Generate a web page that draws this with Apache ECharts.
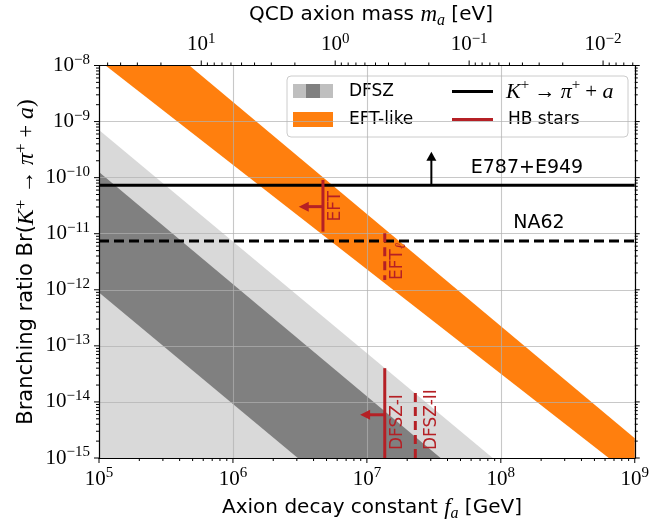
<!DOCTYPE html>
<html><head><meta charset="utf-8">
<script src="https://cdn.jsdelivr.net/npm/echarts@6/dist/echarts.min.js"></script>
<style>html,body{margin:0;padding:0;background:#fff}#c{width:652px;height:523px}</style>
</head><body><div id="c"></div>
<script>
// ---------------- data ----------------
const faRange = [1e5, 1e9];          // axion decay constant f_a [GeV]
const brRange = [1e-15, 1e-8];       // branching ratio
const xTickExps = [5, 6, 7, 8, 9];
const yTickExps = [-15, -14, -13, -12, -11, -10, -9, -8];
const maTickExps = [1, 0, -1, -2];   // top axis: QCD axion mass [eV]
const maConst = 5.8e6;               // m_a [eV] = maConst / f_a[GeV]

// bands: polygons of [f_a, Br]
const dfszOuter = [[1e5, 7.1e-10], [8.7e7, 1e-15], [1e5, 1e-15]];
const dfszInner = [[1e5, 1.26e-10], [3.55e7, 1e-15], [3.05e6, 1e-15], [1e5, 8.9e-13]];
const eftBand   = [[1.12e5, 1e-8], [4.73e5, 1e-8], [1e9, 2.24e-15], [1e9, 1e-15], [6.4e8, 1e-15]];

// K+ -> pi+ a limits
const kNames = ['E787+E949', 'NA62'];
const kBr = [7.33e-11, 7.45e-12];
const kDashed = [false, true];
const kLabelFa = [5.96e7, 1.24e8];
const kArrowFa = [3.03e7, null];
const kArrowTipBr = [2.9e-10, null];

// HB stars bounds
const hbNames = ['EFT', 'EFT_ℓ', 'DFSZ-I', 'DFSZ-II'];
const hbFa = [4.7e6, 1.36e7, 1.36e7, 2.3e7];
const hbBrTop = [9.1e-11, 1.02e-11, 4.0e-14, 1.44e-14];
const hbBrBottom = [1.09e-11, 1.5e-12, 1e-15, 1e-15];
const hbDashed = [false, true, false, true];
const hbArrowBr = [3.04e-11, null, 5.9e-15, null];
const hbArrowTipFa = [3.1e6, null, 8.9e6, null];

// ---------------- styles ----------------
const SERIF = "'Liberation Serif', 'DejaVu Serif', serif";
const SANS = "'DejaVu Sans', sans-serif";
const RED = '#b52025';
const ORANGE = '#ff7f0e';
const LIGHT = '#d9d9d9';
const DARK = '#808080';
const hbLabelLayout = [{dx: 13, dy: 10}, {dx: 13, dy: 0}, {dx: 13, dy: 8}, {dx: 16, dy: 8}];

const expRich = {
  b: {fontFamily: SERIF, fontSize: 21, lineHeight: 26, color: '#000', fill: '#000'},
  s: {fontFamily: SERIF, fontSize: 15, lineHeight: 15, verticalAlign: 'top', color: '#000', fill: '#000'}
};
function powText(e) { return '{b|10}{s|' + (e < 0 ? '\u2212' + (-e) : String(e)) + '}'; }
function powLabel(v) { return powText(Math.round(Math.log10(v))); }

function mathRich(base) {
  return {
    t: {fontFamily: SANS, fontSize: base, lineHeight: 28, fill: '#000'},
    m: {fontFamily: SERIF, fontStyle: 'italic', fontSize: base + 3, lineHeight: 28, fill: '#000'},
    r: {fontFamily: SERIF, fontSize: base + 2, lineHeight: 28, fill: '#000'},
    sub: {fontFamily: SERIF, fontStyle: 'italic', fontSize: base - 4, lineHeight: 17, verticalAlign: 'bottom', fill: '#000'},
    sup: {fontFamily: SERIF, fontSize: base - 4, lineHeight: 17, verticalAlign: 'top', fill: '#000'}
  };
}
const titleRich = mathRich(20);
const yTitleRich = mathRich(21);
const legendRich = mathRich(19);

function polySeries(name, pts, color) {
  return {
    type: 'custom', name, coordinateSystem: 'cartesian2d', z: 2, silent: true,
    data: [pts[0]],
    renderItem: (params, api) => ({
      type: 'polygon',
      shape: {points: pts.map(p => api.coord(p))},
      style: {fill: color}
    })
  };
}

function kRender(params, api) {
  const i = params.dataIndex;
  const pL = api.coord([faRange[0], kBr[i]]), pR = api.coord([faRange[1], kBr[i]]);
  const ch = [{type: 'line', shape: {x1: pL[0], y1: pL[1], x2: pR[0], y2: pR[1]},
    style: {stroke: '#000', lineWidth: 3, lineDash: kDashed[i] ? [10, 5] : null}}];
  if (kArrowFa[i] != null) {
    const a = api.coord([kArrowFa[i], kBr[i]]), t = api.coord([kArrowFa[i], kArrowTipBr[i]]);
    ch.push({type: 'line', shape: {x1: a[0], y1: a[1], x2: t[0], y2: t[1] + 8}, style: {stroke: '#000', lineWidth: 2}});
    ch.push({type: 'polygon', shape: {points: [[t[0], t[1]], [t[0] - 5, t[1] + 9], [t[0] + 5, t[1] + 9]]}, style: {fill: '#000'}});
  }
  const lp = api.coord([kLabelFa[i], kBr[i]]);
  ch.push({type: 'text', x: lp[0], y: lp[1] - 8,
    style: {text: kNames[i], font: '19px ' + SANS, fill: '#000', align: 'left', verticalAlign: 'bottom'}});
  return {type: 'group', children: ch};
}

function hbRender(params, api) {
  const i = params.dataIndex;
  const top = api.coord([hbFa[i], hbBrTop[i]]), bot = api.coord([hbFa[i], hbBrBottom[i]]);
  const ch = [{type: 'line', shape: {x1: top[0], y1: top[1], x2: bot[0], y2: bot[1]},
    style: {stroke: RED, lineWidth: 3, lineDash: hbDashed[i] ? [9, 5] : null}}];
  if (hbArrowBr[i] != null) {
    const a = api.coord([hbFa[i], hbArrowBr[i]]), t = api.coord([hbArrowTipFa[i], hbArrowBr[i]]);
    ch.push({type: 'line', shape: {x1: a[0], y1: a[1], x2: t[0] + 8, y2: t[1]}, style: {stroke: RED, lineWidth: 3}});
    ch.push({type: 'polygon', shape: {points: [[t[0], t[1]], [t[0] + 10, t[1] - 5], [t[0] + 10, t[1] + 5]]}, style: {fill: RED}});
  }
  const lo = hbLabelLayout[i];
  const txt = '{n|' + hbNames[i].replace(/_(.+)$/, '}{l|$1') + '}';
  ch.push({type: 'text', x: bot[0] + lo.dx, y: bot[1] - lo.dy, rotation: Math.PI / 2,
    style: {text: txt, align: 'left', verticalAlign: 'middle', fill: RED,
      rich: {
        n: {fontFamily: SANS, fontSize: 17, lineHeight: 22, fill: RED},
        l: {fontFamily: "'DejaVu Serif', serif", fontStyle: 'italic', fontSize: 15, lineHeight: 14, verticalAlign: 'bottom', fill: RED}
      }}});
  return {type: 'group', children: ch};
}

function ticksRender(params, api) {
  const ch = [];
  const bl = api.coord([faRange[0], brRange[0]]), tr = api.coord([faRange[1], brRange[1]]);
  const L = bl[0], B = bl[1], R = tr[0], T = tr[1];
  const add = (x1, y1, x2, y2) => ch.push({type: 'line', shape: {x1, y1, x2, y2}, style: {stroke: '#000', lineWidth: 1}});
  for (let e = xTickExps[0]; e <= xTickExps[xTickExps.length - 1]; e++) {
    for (let k = 1; k <= 9; k++) {
      const v = k * Math.pow(10, e);
      if (v > faRange[1] * 1.0001) break;
      const x = api.coord([v, brRange[0]])[0];
      add(x, B, x, B + (k === 1 ? 5 : 3));
    }
  }
  for (let e = yTickExps[0]; e <= yTickExps[yTickExps.length - 1]; e++) {
    for (let k = 1; k <= 9; k++) {
      const v = k * Math.pow(10, e);
      if (v > brRange[1] * 1.0001) break;
      const y = api.coord([faRange[0], v])[1];
      const len = k === 1 ? 5 : 3;
      add(L, y, L - len, y);
      add(R, y, R + len, y);
    }
  }
  for (let e = -3; e <= 2; e++) {
    for (let k = 1; k <= 9; k++) {
      const m = k * Math.pow(10, e);
      const fa = maConst / m;
      if (fa < faRange[0] * 0.9999 || fa > faRange[1] * 1.0001) continue;
      const x = api.coord([fa, brRange[1]])[0];
      add(x, T, x, T - (k === 1 ? 5 : 3));
    }
  }
  maTickExps.forEach(e => {
    const x = api.coord([maConst / Math.pow(10, e), brRange[1]])[0];
    ch.push({type: 'text', x: x, y: T - 8, style: {text: powText(e), rich: expRich, align: 'center', verticalAlign: 'bottom'}});
  });
  return {type: 'group', children: ch};
}

const gridLine = {show: true, lineStyle: {color: 'rgba(176,176,176,0.7)', width: 1.1}};

const option = {
  animation: false,
  backgroundColor: '#fff',
  grid: {left: 99, top: 65.5, width: 539, height: 392.5, show: false},
  xAxis: [
    {type: 'log', min: faRange[0], max: faRange[1], position: 'bottom', z: 3,
     axisLine: {show: true, onZero: false, lineStyle: {color: '#000', width: 1.2}},
     axisTick: {show: false}, splitLine: gridLine,
     axisLabel: {margin: 8, formatter: powLabel, rich: expRich}},
    {type: 'log', min: faRange[0], max: faRange[1], position: 'top', z: 3,
     axisLine: {show: true, onZero: false, lineStyle: {color: '#000', width: 1.2}},
     axisTick: {show: false}, splitLine: {show: false}, axisLabel: {show: false}}
  ],
  yAxis: [
    {type: 'log', min: brRange[0], max: brRange[1], position: 'left', splitNumber: 7, z: 3,
     axisLine: {show: true, onZero: false, lineStyle: {color: '#000', width: 1.2}},
     axisTick: {show: false}, splitLine: gridLine,
     axisLabel: {margin: 9, formatter: powLabel, rich: expRich}},
    {type: 'log', min: brRange[0], max: brRange[1], position: 'right', splitNumber: 7, z: 3,
     axisLine: {show: true, onZero: false, lineStyle: {color: '#000', width: 1.2}},
     axisTick: {show: false}, splitLine: {show: false}, axisLabel: {show: false}}
  ],
  series: [
    polySeries('DFSZ outer', dfszOuter, LIGHT),
    polySeries('DFSZ inner', dfszInner, DARK),
    polySeries('EFT-like', eftBand, ORANGE),
    {type: 'custom', name: 'K+ limits', coordinateSystem: 'cartesian2d', z: 5, silent: true,
     data: kBr.map((b, i) => [kLabelFa[i], b]), renderItem: kRender},
    {type: 'custom', name: 'HB stars', coordinateSystem: 'cartesian2d', z: 6, silent: true,
     data: hbFa.map((f, i) => [f, hbBrTop[i]]), renderItem: hbRender},
    {type: 'custom', name: 'ticks', coordinateSystem: 'cartesian2d', z: 7, silent: true,
     data: [[faRange[0], brRange[0]]], renderItem: ticksRender}
  ],
  graphic: [
    {type: 'text', x: 372, y: 508, style: {text: '{t|Axion decay constant }{m|f}{sub|a}{t| [GeV]}', rich: titleRich, align: 'center', verticalAlign: 'middle'}},
    {type: 'text', x: 371, y: 15, style: {text: '{t|QCD axion mass }{m|m}{sub|a}{t| [eV]}', rich: titleRich, align: 'center', verticalAlign: 'middle'}},
    {type: 'text', x: 27, y: 262, rotation: Math.PI / 2,
     style: {text: '{t|Branching ratio Br(}{m|K}{sup|+}{r| \u2192 }{m|\u03c0}{sup|+}{r| + }{m|a}{r|)}', rich: yTitleRich, align: 'center', verticalAlign: 'middle'}},
    {type: 'group', x: 287, y: 76, z: 20, children: [
      {type: 'rect', shape: {x: 0, y: 0, width: 341, height: 61, r: 4}, style: {fill: 'rgba(255,255,255,0.8)', stroke: '#cccccc', lineWidth: 1}},
      {type: 'rect', shape: {x: 6, y: 8, width: 13, height: 14}, style: {fill: '#bfbfbf'}},
      {type: 'rect', shape: {x: 19, y: 8, width: 14, height: 14}, style: {fill: '#808080'}},
      {type: 'rect', shape: {x: 33, y: 8, width: 13, height: 14}, style: {fill: '#bfbfbf'}},
      {type: 'rect', shape: {x: 6, y: 36, width: 40, height: 15}, style: {fill: ORANGE}},
      {type: 'text', x: 62, y: 16, style: {text: 'DFSZ', font: '17px ' + SANS, fill: '#000', verticalAlign: 'middle'}},
      {type: 'text', x: 62, y: 44, style: {text: 'EFT-like', font: '17px ' + SANS, fill: '#000', verticalAlign: 'middle'}},
      {type: 'line', shape: {x1: 165, y1: 15.5, x2: 206, y2: 15.5}, style: {stroke: '#000', lineWidth: 3}},
      {type: 'line', shape: {x1: 165, y1: 43.5, x2: 206, y2: 43.5}, style: {stroke: RED, lineWidth: 3}},
      {type: 'text', x: 219, y: 16, style: {text: '{m|K}{sup|+}{r| \u2192 }{m|\u03c0}{sup|+}{r| + }{m|a}', rich: legendRich, verticalAlign: 'middle'}},
      {type: 'text', x: 221, y: 44, style: {text: 'HB stars', font: '17px ' + SANS, fill: '#000', verticalAlign: 'middle'}}
    ]}
  ]
};

const chart = echarts.init(document.getElementById('c'), null, {renderer: 'canvas', width: 652, height: 523});
chart.setOption(option);
</script>
</body></html>
